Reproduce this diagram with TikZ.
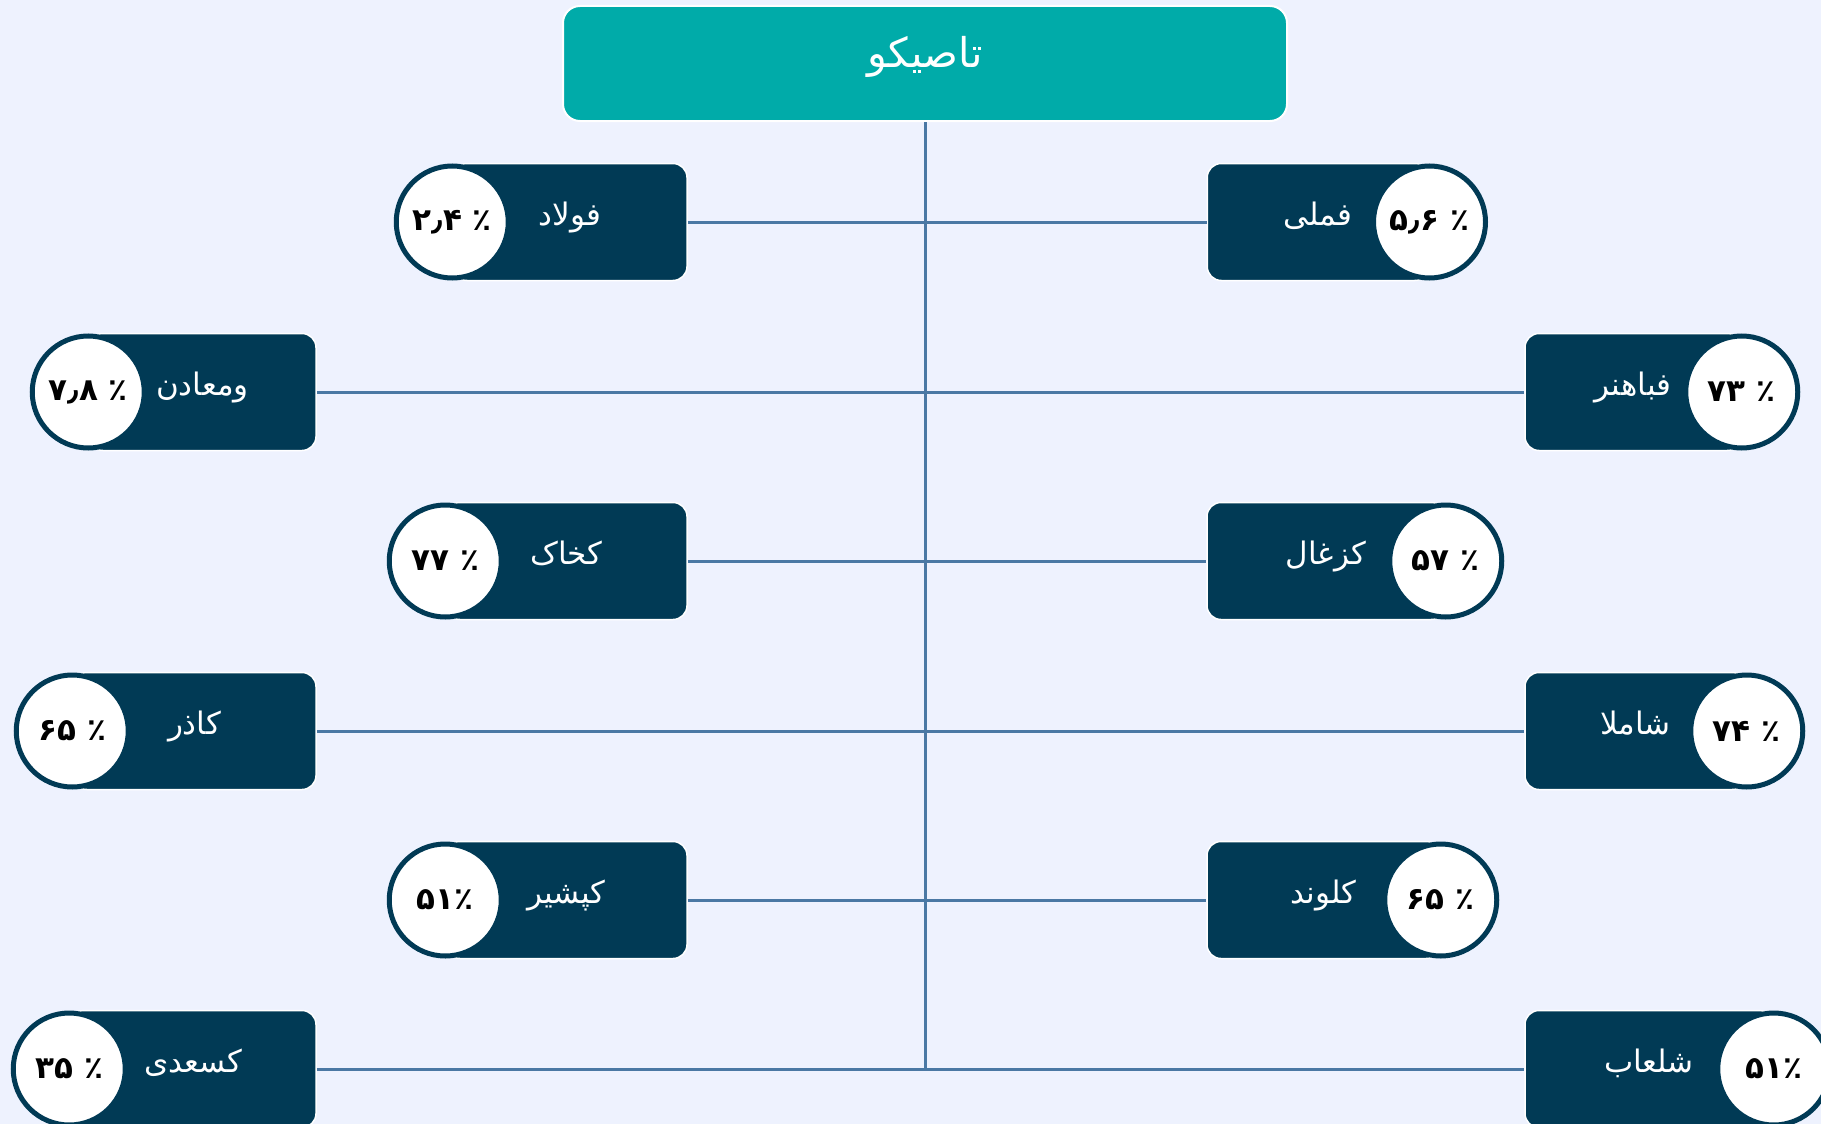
\documentclass[tikz,border=0pt]{standalone}
\usepackage{fontspec}
\usepackage{tikz}
\usetikzlibrary{positioning}
\TeXXeTstate=1
\newfontfamily\arabicfont[Script=Arabic]{DejaVu Sans}
\newfontfamily\numfont{DejaVu Sans}
\definecolor{sfondo}{HTML}{EEF2FE}
\definecolor{verdeacqua}{HTML}{00ABA9}
\definecolor{blunotte}{HTML}{013A55}
\definecolor{linea}{HTML}{4A78A4}

\begin{document}
\begin{tikzpicture}[x=1pt, y=-1pt,
    titolo/.style={rectangle, rounded corners=17pt, fill=verdeacqua, draw=white, line width=2pt,
      minimum width=724pt, minimum height=115pt, text height=9pt, text depth=0pt,
      text=white, font=\arabicfont\fontsize{41}{48}\selectfont},
    scatola/.style={rectangle, rounded corners=14pt, fill=blunotte, draw=white, line width=1.5pt,
      minimum height=117pt, inner sep=0pt, text height=7pt, text depth=0pt,
      text=white, font=\arabicfont\fontsize{31}{36}\selectfont},
    cerchio/.style={circle, fill=white, draw=blunotte, line width=5pt, minimum size=112pt,
      inner sep=0pt, font=\numfont\bfseries\fontsize{31}{36}\selectfont},
    ramo/.style={draw=linea, line width=3pt}]
      % Sfondo
      \fill[sfondo] (0,0) rectangle (1821,1124);
      \useasboundingbox (0,0) rectangle (1821,1124);

      % Nodo principale
      \node[titolo] (tasiko) at (925,63.5) {\beginR تاصیکو\endR};

      % Scatole a sinistra
      \node[scatola, minimum width=234pt] (fulad) at (570,222) {\beginR فولاد\endR};
      \node[scatola, minimum width=227pt] (vamaaden) at (202.5,392) {\beginR ومعادن\endR};
      \node[scatola, minimum width=241pt] (kekhak) at (566.5,561) {\beginR کخاک\endR};
      \node[scatola, minimum width=243pt] (kazar) at (194.5,731) {\beginR کاذر\endR};
      \node[scatola, minimum width=241pt] (kepshir) at (566.5,900) {\beginR کپشیر\endR};
      \node[scatola, minimum width=246pt] (kasadi) at (193,1069) {\beginR کسعدی\endR};

      % Scatole a destra
      \node[scatola, minimum width=221.5pt] (fameli) at (1318,222) {\beginR فملی\endR};
      \node[scatola, minimum width=216pt] (fabahonar) at (1633,392) {\beginR فباهنر\endR};
      \node[scatola, minimum width=238pt] (kazghal) at (1326,561) {\beginR کزغال\endR};
      \node[scatola, minimum width=221pt] (shamela) at (1635.5,731) {\beginR شاملا\endR};
      \node[scatola, minimum width=233pt] (kalvand) at (1323.5,900) {\beginR کلوند\endR};
      \node[scatola, minimum width=248pt] (shalab) at (1649,1069) {\beginR شلعاب\endR};

      % Percentuali
      \node[cerchio] (pfulad) at (fulad.west) {\beginR ٪ ۲٫۴\endR};
      \node[cerchio] (pvamaaden) at (vamaaden.west) {\beginR ٪ ۷٫۸\endR};
      \node[cerchio] (pkekhak) at (kekhak.west) {\beginR ٪ ۷۷\endR};
      \node[cerchio] (pkazar) at (kazar.west) {\beginR ٪ ۶۵\endR};
      \node[cerchio] (pkepshir) at (kepshir.west) {۵۱٪};
      \node[cerchio] (pkasadi) at (kasadi.west) {\beginR ٪ ۳۵\endR};
      \node[cerchio] (pfameli) at (fameli.east) {\beginR ٪ ۵٫۶\endR};
      \node[cerchio] (pfabahonar) at (fabahonar.east) {\beginR ٪ ۷۳\endR};
      \node[cerchio] (pkazghal) at (kazghal.east) {\beginR ٪ ۵۷\endR};
      \node[cerchio] (pshamela) at (shamela.east) {\beginR ٪ ۷۴\endR};
      \node[cerchio] (pkalvand) at (kalvand.east) {\beginR ٪ ۶۵\endR};
      \node[cerchio] (pshalab) at (shalab.east) {۵۱٪};

      % Collegamenti
      \draw[ramo] (fulad.east) -- (fameli.west);
      \draw[ramo] (vamaaden.east) -- (fabahonar.west);
      \draw[ramo] (kekhak.east) -- (kazghal.west);
      \draw[ramo] (kazar.east) -- (shamela.west);
      \draw[ramo] (kepshir.east) -- (kalvand.west);
      \draw[ramo] (kasadi.east) -- (shalab.west);
      \draw[ramo] (tasiko.south) -- (tasiko.south |- kasadi.east);
    \end{tikzpicture}
\end{document}
